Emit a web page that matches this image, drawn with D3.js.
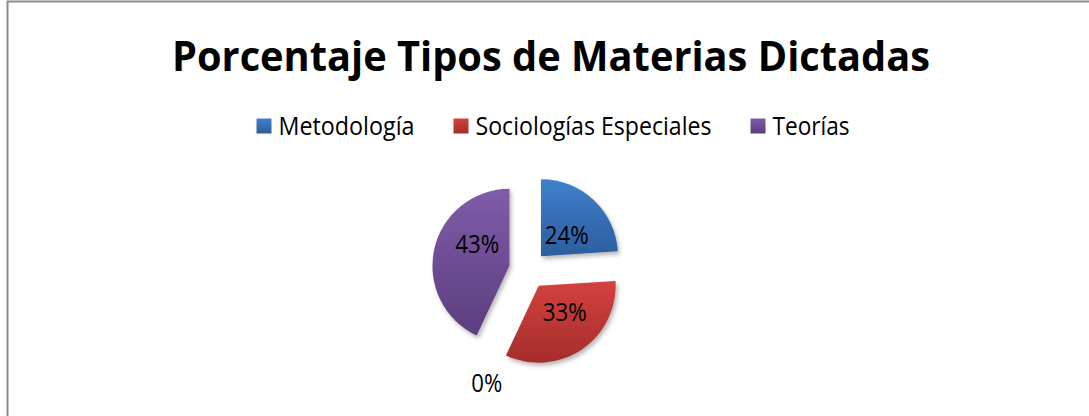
<!DOCTYPE html>
<html>
<head>
<meta charset="utf-8">
<script src="https://cdn.jsdelivr.net/npm/d3@7"></script>
<style>
  html, body { margin: 0; padding: 0; background: #fff; }
  svg { display: block; }
  text { font-family: "Open Sans", "Noto Sans", sans-serif; fill: #000; }
</style>
</head>
<body>
<svg id="chart" width="1089" height="416"></svg>
<script>
// ---- data ----
const title = "Porcentaje Tipos de Materias Dictadas";
const categories = ["Metodología", "Sociologías Especiales", "", "Teorías"];
const values = [24, 33, 0, 43];
const legendCategories = ["Metodología", "Sociologías Especiales", "Teorías"];
const colorTop = ["#3f80cc", "#d3423f", "", "#7f5ca9"];
const colorBottom = ["#2c5e9e", "#a52d2b", "", "#5b3e7e"];
const legendColorTop = ["#3f80cc", "#d3423f", "#7f5ca9"];
const legendColorBottom = ["#2c5e9e", "#a52d2b", "#5b3e7e"];

// ---- layout ----
const W = 1089, H = 416;
const cx = 528, cy = 270, R = 77, explode = 19;
// label placement relative to each slice's vertex: [angle deg, distance]
const labelPolar = [[51, 33], [135, 37], [0, 0], [304, 39]];
// Calibri-like text widths for the legend entries
const legendTextWidth = [136, 236, 77];

const svg = d3.select("#chart");
const defs = svg.append("defs");

// border
svg.append("rect")
  .attr("x", 7.5).attr("y", 1.5).attr("width", 1100).attr("height", 440)
  .attr("fill", "#fff").attr("stroke", "#8c8c8c").attr("stroke-width", 2);

// shadow filter
const f = defs.append("filter").attr("id", "shadow")
  .attr("x", "-20%").attr("y", "-20%").attr("width", "150%").attr("height", "150%");
f.append("feDropShadow").attr("dx", 2).attr("dy", 3).attr("stdDeviation", 2.2)
  .attr("flood-color", "#000").attr("flood-opacity", 0.28);

function grad(id, top, bottom) {
  const g = defs.append("linearGradient").attr("id", id)
    .attr("x1", 0).attr("y1", 0).attr("x2", 0).attr("y2", 1);
  g.append("stop").attr("offset", "0%").attr("stop-color", top);
  g.append("stop").attr("offset", "100%").attr("stop-color", bottom);
}
values.forEach((v, i) => { if (colorTop[i]) grad("g" + i, colorTop[i], colorBottom[i]); });
legendCategories.forEach((c, i) => grad("lg" + i, legendColorTop[i], legendColorBottom[i]));

// title
svg.append("text")
  .attr("x", 551).attr("y", 71)
  .attr("text-anchor", "middle")
  .style("font-size", "41px").style("font-weight", "bold")
  .attr("textLength", 758).attr("lengthAdjust", "spacingAndGlyphs")
  .text(title);

// legend
const legendFont = 25;
const squareSize = 15, squareGap = 7, itemGap = 39;
const lg = svg.append("g");
const totalW = d3.sum(legendTextWidth) + legendCategories.length * (squareSize + squareGap) + (legendCategories.length - 1) * itemGap;
let lx = 553 - totalW / 2;
legendCategories.forEach((c, i) => {
  lg.append("rect").attr("x", lx).attr("y", 118.5).attr("width", squareSize).attr("height", squareSize)
    .attr("fill", `url(#lg${i})`);
  lx += squareSize + squareGap;
  lg.append("text").attr("x", lx).attr("y", 134.5)
    .style("font-size", legendFont + "px")
    .attr("textLength", legendTextWidth[i]).attr("lengthAdjust", "spacingAndGlyphs")
    .text(c);
  lx += legendTextWidth[i] + itemGap;
});

// pie
const pie = d3.pie().sort(null).value(d => d)(values);
const arc = d3.arc().innerRadius(0).outerRadius(R);
const total = d3.sum(values);
const pg = svg.append("g").attr("transform", `translate(${cx},${cy})`);
const labelFont = "25px";

pie.forEach((p, i) => {
  const mid = (p.startAngle + p.endAngle) / 2;
  const ox = explode * Math.sin(mid), oy = -explode * Math.cos(mid);
  const label = Math.round(p.value / total * 100) + "%";
  if (p.value > 0) {
    pg.append("path")
      .attr("d", arc(p))
      .attr("transform", `translate(${ox},${oy})`)
      .attr("fill", `url(#g${i})`)
      .attr("filter", "url(#shadow)");
    const [la, ld] = labelPolar[i];
    const a = la * Math.PI / 180;
    pg.append("text")
      .attr("x", ox + ld * Math.sin(a)).attr("y", oy - ld * Math.cos(a))
      .attr("text-anchor", "middle").attr("dy", "0.35em")
      .style("font-size", labelFont)
      .attr("textLength", 44).attr("lengthAdjust", "spacingAndGlyphs")
      .text(label);
  } else {
    const lr = R * 1.56;
    const a = mid - 0.09;
    pg.append("text")
      .attr("x", lr * Math.sin(a)).attr("y", -lr * Math.cos(a))
      .attr("text-anchor", "middle").attr("dy", "0.35em")
      .style("font-size", labelFont)
      .attr("textLength", 31).attr("lengthAdjust", "spacingAndGlyphs")
      .text(label);
  }
});
</script>
</body>
</html>
